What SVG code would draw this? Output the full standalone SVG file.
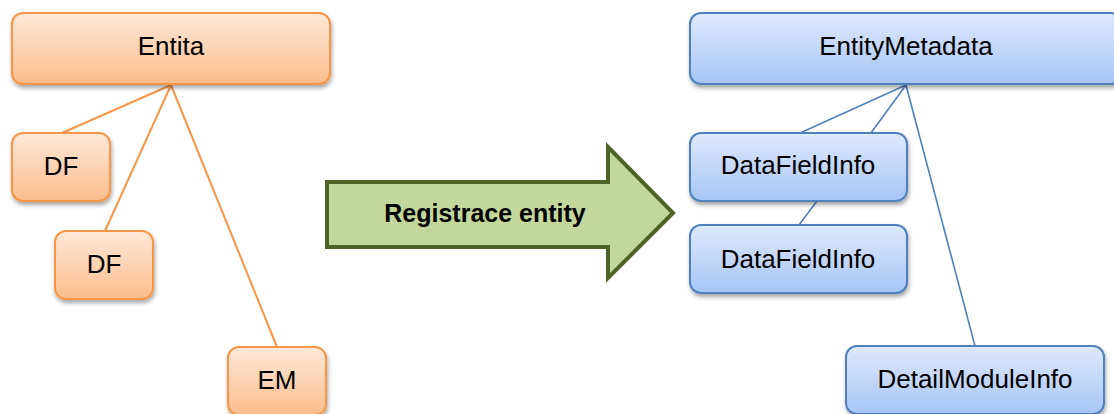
<svg xmlns="http://www.w3.org/2000/svg" width="1114" height="414" viewBox="0 0 1114 414">
<defs>
<linearGradient id="gOr" x1="0" y1="0" x2="0" y2="1">
<stop offset="0" stop-color="#fee8d9"/><stop offset="1" stop-color="#fbbd8c"/>
</linearGradient>
<linearGradient id="gBl" x1="0" y1="0" x2="0" y2="1">
<stop offset="0" stop-color="#dee9fc"/><stop offset="1" stop-color="#a7c5f6"/>
</linearGradient>
<filter id="sh" x="-10%" y="-20%" width="120%" height="150%">
<feDropShadow dx="1" dy="3" stdDeviation="2" flood-color="#000" flood-opacity="0.35"/>
</filter>
<style>
.or{fill:url(#gOr);stroke:#f79646;stroke-width:2;filter:url(#sh)}
.bl{fill:url(#gBl);stroke:#4f81bd;stroke-width:2;filter:url(#sh)}
.t{font-family:"Liberation Sans",Arial,sans-serif;font-size:26px;fill:#000;text-anchor:middle}
.co{stroke:#f79646;stroke-width:2;fill:none}
.cb{stroke:#4f81bd;stroke-width:1.6;fill:none}
</style>
</defs>
<g id="connectors">
<line class="co" x1="171" y1="85" x2="62" y2="133"/>
<line class="co" x1="171" y1="85" x2="105" y2="231"/>
<line class="co" x1="171" y1="85" x2="277" y2="347"/>
<line class="cb" x1="906" y1="85" x2="800" y2="133"/>
<line class="cb" x1="906" y1="85" x2="871" y2="133"/>
<line class="cb" x1="906" y1="85" x2="975" y2="346"/>
<line class="cb" x1="817" y1="201" x2="799" y2="225"/>
</g>
<g id="entita"><rect class="or" x="12" y="13" width="318" height="71" rx="11"/><text class="t" x="171" y="55">Entita</text></g>
<g id="df1"><rect class="or" x="12" y="133" width="98" height="68" rx="11"/><text class="t" x="61" y="175">DF</text></g>
<g id="df2"><rect class="or" x="55" y="231" width="98" height="68" rx="11"/><text class="t" x="104" y="273">DF</text></g>
<g id="em"><rect class="or" x="228" y="347" width="98" height="68" rx="11"/><text class="t" x="277" y="389">EM</text></g>
<g id="arrow">
<polygon points="327,182 608,182 608,147 673,213 608,278 608,247 327,247" fill="#c3d69b" stroke="#4f6228" stroke-width="4" stroke-linejoin="miter"/>
<text x="485" y="222" font-family="'Liberation Sans',Arial,sans-serif" font-size="25" font-weight="bold" text-anchor="middle" fill="#000">Registrace entity</text>
</g>
<g id="entitymetadata"><rect class="bl" x="690" y="13" width="432" height="71" rx="11"/><text class="t" x="906" y="55">EntityMetadata</text></g>
<g id="dfi1"><rect class="bl" x="690" y="133" width="217" height="68" rx="11"/><text class="t" x="798" y="174">DataFieldInfo</text></g>
<g id="dfi2"><rect class="bl" x="690" y="225" width="217" height="68" rx="11"/><text class="t" x="798" y="268">DataFieldInfo</text></g>
<g id="dmi"><rect class="bl" x="846" y="346" width="258" height="68" rx="11"/><text class="t" x="975" y="388">DetailModuleInfo</text></g>
</svg>
